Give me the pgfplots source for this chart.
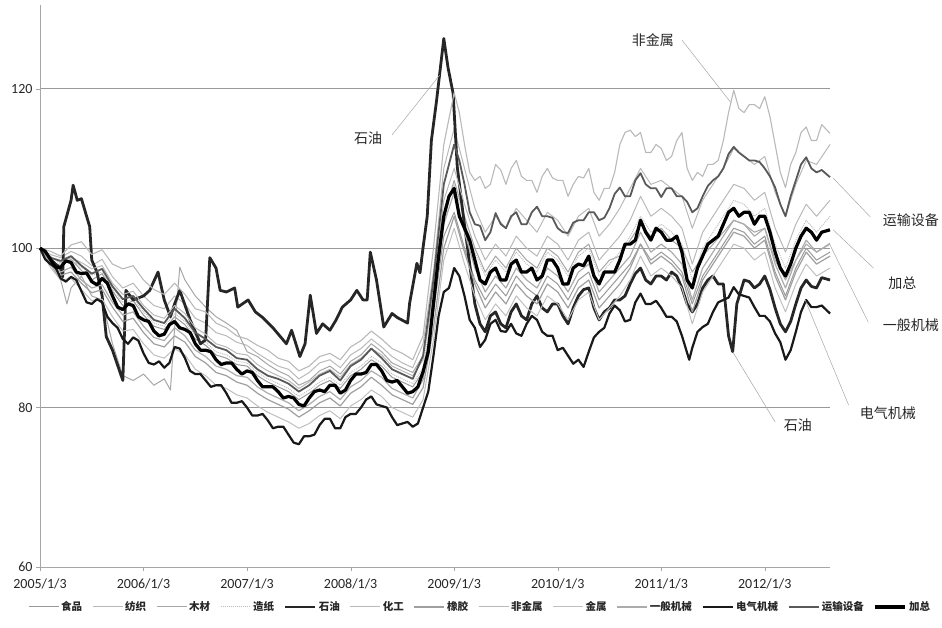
\documentclass[border=0pt]{standalone}
\usepackage{fontspec}
\setmainfont{Carlito}
\newfontfamily\cjk{Noto Sans CJK SC}
\usepackage{pgfplots}
\pgfplotsset{compat=1.18}
\begin{document}
\begin{tikzpicture}[x=1pt,y=1pt]
\path[use as bounding box] (0,0) rectangle (942,627);
\begin{axis}[
  at={(40pt,60pt)}, anchor=south west, scale only axis,
  width=790pt, height=562pt,
  xmin=0, xmax=7.63, ymin=60, ymax=130.5,
  axis x line*=bottom, axis y line*=left,
  axis line style={-, gray!70, line width=0.7pt},
  xtick={0,...,7},
  xticklabels={2005/1/3,2006/1/3,2007/1/3,2008/1/3,2009/1/3,2010/1/3,2011/1/3,2012/1/3},
  ytick={60,80,100,120},
  ymajorgrids, grid style={gray!80, line width=0.7pt},
  tick align=outside, major tick length=4pt, tick style={gray!70},
  ticklabel style={font=\fontsize{14}{14}\selectfont, text=black!85},
  xticklabel style={yshift=-4pt},
  /pgf/number format/assume math mode=true,
  clip=false,
  line join=round,
  legend columns=13,
  legend cell align=left,
  legend image code/.code={\draw[#1] (0pt,0pt) -- (30pt,0pt);},
  legend style={at={(0.557,-0.071)}, anchor=center, draw=none, fill=none,
    font=\cjk\bfseries\fontsize{10.5}{11}\selectfont, text=black!85,
    /tikz/every odd column/.append style={column sep=0pt},
    /tikz/every even column/.append style={column sep=8pt}},
]
% 食品
\addplot[gray!80, line width=1pt] coordinates {
(0,100) (0.1,98.4) (0.2,97.8) (0.3,98.6) (0.4,97.2) (0.5,96.0) (0.6,96.8) (0.7,94.6) (0.8,92.8) (0.9,93.4)
(1.0,91.6) (1.1,90.2) (1.2,89.8) (1.3,91.4) (1.4,90.4) (1.5,88.6) (1.6,87.8) (1.7,86.6) (1.8,86.2) (1.9,85.4)
(2.0,85.2) (2.1,84.0) (2.2,83.2) (2.3,82.6) (2.4,82.0) (2.5,81.0) (2.6,81.8) (2.7,82.8) (2.8,83.4) (2.9,82.4)
(3.0,84.0) (3.1,84.8) (3.2,86.0) (3.3,85.2) (3.4,83.8) (3.5,83.2) (3.6,82.6) (3.7,84.5) (3.8,92.0) (3.9,101.5)
(4.0,104.5) (4.1,100.0) (4.2,96.0) (4.3,93.5) (4.4,95.5) (4.5,94.0) (4.6,96.5) (4.7,95.0) (4.8,94.0) (4.9,96.5)
(5.0,95.5) (5.1,93.5) (5.2,96.0) (5.3,97.0) (5.4,93.5) (5.5,95.0) (5.6,96.5) (5.7,98.0) (5.8,100.5) (5.9,98.5)
(6.0,99.5) (6.1,98.5) (6.2,97.0) (6.3,93.0) (6.4,96.5) (6.5,98.5) (6.6,100.5) (6.7,102.5) (6.8,102.0) (6.9,100.5)
(7.0,101.5) (7.1,97.0) (7.2,94.0) (7.3,97.5) (7.4,100.0) (7.5,98.5) (7.63,99.5)};
\addlegendentry{食品}
% 纺织
\addplot[gray!55, line width=1pt] coordinates {
(0,100) (0.1,99.2) (0.2,98.8) (0.3,99.6) (0.4,99.0) (0.5,97.8) (0.6,98.6) (0.7,96.4) (0.8,95.0) (0.9,95.6)
(1.0,94.0) (1.1,92.8) (1.2,92.4) (1.3,94.0) (1.4,93.0) (1.5,91.2) (1.6,90.6) (1.7,89.4) (1.8,89.0) (1.9,88.2)
(2.0,87.8) (2.1,86.8) (2.2,86.0) (2.3,85.2) (2.4,84.8) (2.5,83.6) (2.6,84.4) (2.7,85.6) (2.8,86.0) (2.9,85.0)
(3.0,86.6) (3.1,87.4) (3.2,88.6) (3.3,87.6) (3.4,86.4) (3.5,85.6) (3.6,85.0) (3.7,88.0) (3.8,97.0) (3.9,110.0)
(4.0,115.0) (4.1,110.0) (4.2,105.0) (4.3,102.0) (4.4,104.0) (4.5,102.5) (4.6,105.0) (4.7,103.5) (4.8,102.0) (4.9,104.5)
(5.0,103.5) (5.1,101.5) (5.2,104.0) (5.3,105.0) (5.4,101.5) (5.5,103.0) (5.6,105.0) (5.7,107.5) (5.8,110.0) (5.9,108.0)
(6.0,108.5) (6.1,107.5) (6.2,106.5) (6.3,102.5) (6.4,106.0) (6.5,108.0) (6.6,110.0) (6.7,112.5) (6.8,111.5) (6.9,110.5)
(7.0,111.5) (7.1,107.0) (7.2,104.0) (7.3,108.0) (7.4,111.0) (7.5,110.5) (7.63,113.0)};
\addlegendentry{纺织}
% 木材
\addplot[gray!70, line width=1pt] coordinates {
(0,100) (0.1,98.0) (0.2,96.0) (0.26,93.0) (0.3,95.0) (0.4,96.5) (0.5,94.0) (0.6,93.5) (0.7,88.0) (0.8,84.0)
(0.9,83.4) (1.0,84.2) (1.1,82.8) (1.2,83.6) (1.26,82.2) (1.3,90.0) (1.35,97.6) (1.4,96.0) (1.5,94.0) (1.6,92.6)
(1.7,91.4) (1.8,90.6) (1.9,89.7) (2.0,87.0) (2.1,86.4) (2.2,85.4) (2.3,84.6) (2.4,84.0) (2.5,82.8) (2.6,83.4)
(2.7,84.6) (2.8,85.2) (2.9,84.2) (3.0,85.8) (3.1,86.6) (3.2,88.0) (3.3,87.0) (3.4,85.6) (3.5,85.0) (3.6,84.4)
(3.7,86.5) (3.8,94.0) (3.9,104.0) (4.0,108.5) (4.1,104.0) (4.2,100.0) (4.3,97.0) (4.4,99.0) (4.5,97.5) (4.6,100.0)
(4.7,98.5) (4.8,97.5) (4.9,100.0) (5.0,99.0) (5.1,97.0) (5.2,99.5) (5.3,100.5) (5.4,97.0) (5.5,98.5) (5.6,99.0)
(5.7,101.0) (5.8,103.0) (5.9,101.5) (6.0,102.5) (6.1,101.0) (6.2,100.0) (6.3,97.0) (6.4,99.0) (6.5,100.5) (6.6,102.0)
(6.7,103.5) (6.8,103.0) (6.9,102.0) (7.0,102.5) (7.1,98.5) (7.2,96.0) (7.3,98.5) (7.4,100.5) (7.5,99.5) (7.63,100.5)};
\addlegendentry{木材}
% 造纸
\addplot[gray!50, line width=1pt, densely dotted] coordinates {
(0,100) (0.1,99.0) (0.2,98.0) (0.3,98.6) (0.4,97.6) (0.5,96.6) (0.6,97.0) (0.7,94.8) (0.8,93.2) (0.9,93.6)
(1.0,92.0) (1.1,90.6) (1.2,90.2) (1.3,91.8) (1.4,90.8) (1.5,89.0) (1.6,88.2) (1.7,87.0) (1.8,86.6) (1.9,85.8)
(2.0,85.6) (2.1,84.4) (2.2,83.6) (2.3,83.0) (2.4,82.4) (2.5,81.4) (2.6,82.2) (2.7,83.2) (2.8,83.8) (2.9,82.8)
(3.0,84.4) (3.1,85.2) (3.2,86.4) (3.3,85.6) (3.4,84.2) (3.5,83.6) (3.6,83.0) (3.7,85.0) (3.8,93.5) (3.9,104.5)
(4.0,108.0) (4.1,103.5) (4.2,99.5) (4.3,96.5) (4.4,98.5) (4.5,97.0) (4.6,99.5) (4.7,98.0) (4.8,97.0) (4.9,99.5)
(5.0,98.5) (5.1,96.5) (5.2,99.0) (5.3,100.0) (5.4,96.5) (5.5,98.0) (5.6,99.5) (5.7,101.5) (5.8,104.0) (5.9,102.0)
(6.0,103.0) (6.1,102.0) (6.2,100.5) (6.3,96.0) (6.4,100.0) (6.5,102.0) (6.6,104.0) (6.7,106.0) (6.8,105.5) (6.9,104.0)
(7.0,105.0) (7.1,100.5) (7.2,97.5) (7.3,101.0) (7.4,103.5) (7.5,102.0) (7.63,104.0)};
\addlegendentry{造纸}
% 石油
\addplot[black!85, line width=2.8pt] coordinates {
(0,100) (0.1,98.6) (0.2,97.4) (0.22,96.4) (0.23,102.7) (0.3,106.0) (0.32,107.9) (0.36,106.0) (0.4,106.2) (0.45,104.0)
(0.48,102.7) (0.5,98.5) (0.55,97.0) (0.6,94.0) (0.64,88.9) (0.7,87.2) (0.8,83.4) (0.83,94.7) (0.9,93.5) (1.0,94.0)
(1.06,94.7) (1.14,97.0) (1.2,93.5) (1.26,91.4) (1.3,93.0) (1.35,94.7) (1.45,91.0) (1.55,88.0) (1.6,88.5) (1.64,98.8)
(1.7,97.5) (1.74,94.7) (1.8,94.5) (1.88,95.0) (1.91,92.6) (2.01,93.5) (2.08,92.0) (2.15,91.3) (2.25,90.0) (2.38,88.0)
(2.43,89.7) (2.51,86.4) (2.56,88.0) (2.61,94.1) (2.67,89.3) (2.73,90.5) (2.8,89.7) (2.86,91.0) (2.92,92.6) (3.0,93.5)
(3.06,94.7) (3.12,93.5) (3.16,93.5) (3.19,99.5) (3.25,96.0) (3.32,90.1) (3.4,91.8) (3.45,91.3) (3.55,90.6) (3.57,93.1)
(3.64,98.1) (3.67,96.9) (3.7,100.1) (3.74,104.0) (3.78,113.5) (3.83,118.5) (3.9,126.3) (3.94,122.7) (3.99,119.4) (4.03,110.2)
(4.09,103.9) (4.15,98.0) (4.2,93.0) (4.25,90.5) (4.3,89.5) (4.35,91.5) (4.4,92.0) (4.45,90.5) (4.5,90.0) (4.55,92.0)
(4.6,93.0) (4.65,91.5) (4.7,91.0) (4.75,93.0) (4.8,94.0) (4.85,92.5) (4.9,92.0) (4.95,93.0) (5.0,93.0) (5.05,91.5)
(5.1,90.5) (5.15,92.5) (5.2,94.0) (5.25,94.8) (5.3,95.0) (5.35,92.5) (5.4,91.0) (5.45,92.0) (5.5,92.5) (5.55,93.5)
(5.6,93.5) (5.65,94.0) (5.7,95.5) (5.75,96.8) (5.8,97.5) (5.85,96.0) (5.9,95.5) (5.95,96.5) (6.0,96.5) (6.05,96.0)
(6.1,97.0) (6.15,96.5) (6.2,95.0) (6.25,93.0) (6.3,92.0) (6.35,93.0) (6.4,95.0) (6.45,96.0) (6.5,96.5) (6.55,95.5)
(6.6,95.5) (6.65,89.0) (6.69,87.0) (6.73,93.0) (6.8,96.0) (6.85,95.8) (6.9,95.0) (6.95,95.5) (7.0,96.5) (7.05,94.8)
(7.1,92.5) (7.15,90.5) (7.2,89.5) (7.25,90.8) (7.3,93.0) (7.35,95.0) (7.4,96.0) (7.45,95.2) (7.5,95.0) (7.55,96.3) (7.63,96.0)};
\addlegendentry{石油}
% 化工
\addplot[gray!55, line width=1pt] coordinates {
(0,100) (0.1,98.9) (0.2,98.2) (0.3,98.8) (0.4,98.2) (0.5,97.4) (0.6,97.8) (0.7,95.6) (0.8,94.2) (0.9,94.6)
(1.0,92.8) (1.1,91.6) (1.2,91.2) (1.3,92.8) (1.4,91.8) (1.5,90.0) (1.6,89.2) (1.7,88.0) (1.8,87.6) (1.9,86.8)
(2.0,86.6) (2.1,85.4) (2.2,84.6) (2.3,84.0) (2.4,83.4) (2.5,82.4) (2.6,83.2) (2.7,84.2) (2.8,84.8) (2.9,83.8)
(3.0,85.4) (3.1,86.2) (3.2,87.4) (3.3,86.6) (3.4,85.2) (3.5,84.6) (3.6,84.0) (3.7,86.0) (3.8,95.0) (3.9,106.0)
(4.0,110.0) (4.1,105.5) (4.2,101.5) (4.3,98.5) (4.4,100.5) (4.5,99.0) (4.6,101.5) (4.7,100.0) (4.8,99.0) (4.9,101.5)
(5.0,100.5) (5.1,98.5) (5.2,101.0) (5.3,102.0) (5.4,98.5) (5.5,100.0) (5.6,101.5) (5.7,103.5) (5.8,106.5) (5.9,104.0)
(6.0,105.0) (6.1,104.0) (6.2,102.5) (6.3,98.0) (6.4,102.0) (6.5,104.0) (6.6,106.0) (6.7,108.0) (6.8,107.5) (6.9,106.0)
(7.0,107.0) (7.1,102.5) (7.2,99.5) (7.3,103.0) (7.4,105.5) (7.5,104.0) (7.63,106.0)};
\addlegendentry{化工}
% 橡胶
\addplot[gray!75, line width=1.2pt] coordinates {
(0,100) (0.1,98.0) (0.2,96.6) (0.3,97.0) (0.4,95.6) (0.5,94.4) (0.6,94.8) (0.7,92.6) (0.8,90.8) (0.9,91.2)
(1.0,89.4) (1.1,88.0) (1.2,87.6) (1.3,89.0) (1.4,88.2) (1.5,86.4) (1.6,85.6) (1.7,84.4) (1.8,84.0) (1.9,83.2)
(2.0,82.8) (2.1,81.8) (2.2,81.0) (2.3,80.4) (2.4,79.8) (2.5,78.8) (2.6,79.6) (2.7,80.6) (2.8,81.2) (2.9,80.2)
(3.0,81.8) (3.1,82.6) (3.2,83.8) (3.3,82.8) (3.4,81.6) (3.5,81.0) (3.6,80.4) (3.7,82.5) (3.8,90.0) (3.9,100.0)
(4.0,104.0) (4.1,99.5) (4.2,95.5) (4.3,92.5) (4.4,94.5) (4.5,93.0) (4.6,95.5) (4.7,94.0) (4.8,93.0) (4.9,95.5)
(5.0,94.5) (5.1,92.5) (5.2,95.0) (5.3,96.0) (5.4,92.5) (5.5,94.0) (5.6,95.5) (5.7,97.5) (5.8,100.5) (5.9,98.0)
(6.0,99.0) (6.1,98.0) (6.2,96.5) (6.3,92.0) (6.4,96.0) (6.5,98.0) (6.6,100.0) (6.7,102.0) (6.8,101.5) (6.9,100.0)
(7.0,101.0) (7.1,96.5) (7.2,93.5) (7.3,97.0) (7.4,99.5) (7.5,98.0) (7.63,99.0)};
\addlegendentry{橡胶}
% 非金属
\addplot[gray!55, line width=1.1pt] coordinates {
(0,100) (0.1,99.6) (0.2,99.0) (0.3,100.4) (0.4,100.8) (0.5,99.2) (0.6,99.8) (0.7,98.0) (0.8,97.4) (0.9,97.8)
(1.0,96.0) (1.1,94.8) (1.2,94.2) (1.3,95.6) (1.4,94.2) (1.5,92.4) (1.6,92.0) (1.7,90.6) (1.8,90.0) (1.9,89.0)
(2.0,88.6) (2.1,87.8) (2.2,87.2) (2.3,86.2) (2.4,85.8) (2.5,84.6) (2.6,85.2) (2.7,86.4) (2.8,86.8) (2.9,86.0)
(3.0,87.6) (3.1,88.4) (3.2,89.6) (3.3,88.6) (3.4,87.4) (3.5,86.8) (3.6,86.0) (3.7,89.0) (3.8,100.0) (3.9,113.0)
(4.0,119.5) (4.05,117.0) (4.1,113.0) (4.15,109.5) (4.2,108.5) (4.25,109.0) (4.3,107.5) (4.35,108.0) (4.4,110.5) (4.45,109.8)
(4.5,108.0) (4.55,110.0) (4.6,111.0) (4.65,109.0) (4.7,108.5) (4.75,108.5) (4.8,107.0) (4.85,109.0) (4.9,110.0) (4.95,108.8)
(5.0,108.5) (5.05,108.5) (5.1,106.5) (5.15,108.0) (5.2,109.0) (5.25,108.8) (5.3,110.0) (5.35,107.0) (5.4,106.0) (5.45,107.5)
(5.5,107.5) (5.55,109.5) (5.6,113.0) (5.65,114.5) (5.7,114.8) (5.75,114.0) (5.8,114.5) (5.85,112.0) (5.9,112.0) (5.95,113.0)
(6.0,112.5) (6.05,111.0) (6.1,111.5) (6.15,113.5) (6.2,114.5) (6.25,110.0) (6.3,108.5) (6.35,109.5) (6.4,109.0) (6.45,110.5)
(6.5,110.5) (6.55,111.0) (6.6,113.5) (6.65,117.0) (6.7,119.8) (6.75,117.5) (6.8,117.0) (6.85,118.0) (6.9,118.0) (6.95,117.5)
(7.0,119.0) (7.05,116.5) (7.1,113.0) (7.15,109.5) (7.2,107.6) (7.25,110.5) (7.3,112.0) (7.35,114.5) (7.4,115.2) (7.45,113.5)
(7.5,113.5) (7.55,115.5) (7.63,114.4)};
\addlegendentry{非金属}
% 金属
\addplot[gray!50, line width=1pt] coordinates {
(0,100) (0.1,97.6) (0.2,96.0) (0.3,96.2) (0.4,94.8) (0.5,93.4) (0.6,93.6) (0.7,91.4) (0.8,89.6) (0.9,89.8)
(1.0,88.0) (1.1,86.6) (1.2,86.2) (1.3,87.4) (1.4,86.6) (1.5,84.8) (1.6,84.0) (1.7,82.8) (1.8,82.4) (1.9,81.6)
(2.0,81.2) (2.1,80.2) (2.2,79.4) (2.3,78.8) (2.4,78.2) (2.5,77.4) (2.6,78.0) (2.7,79.0) (2.8,79.6) (2.9,78.6)
(3.0,80.2) (3.1,81.0) (3.2,82.2) (3.3,81.4) (3.4,80.0) (3.5,79.4) (3.6,78.8) (3.7,81.0) (3.8,88.5) (3.9,98.5)
(4.0,102.5) (4.1,98.0) (4.2,94.0) (4.3,91.0) (4.4,93.0) (4.5,91.5) (4.6,94.0) (4.7,92.5) (4.8,91.5) (4.9,94.0)
(5.0,93.0) (5.1,91.0) (5.2,93.5) (5.3,94.5) (5.4,91.0) (5.5,92.5) (5.6,94.0) (5.7,96.0) (5.8,99.0) (5.9,96.5)
(6.0,97.5) (6.1,96.5) (6.2,95.0) (6.3,90.5) (6.4,94.5) (6.5,96.5) (6.6,98.5) (6.7,100.5) (6.8,100.0) (6.9,98.5)
(7.0,99.5) (7.1,95.0) (7.2,92.0) (7.3,95.5) (7.4,98.0) (7.5,96.5) (7.63,97.5)};
\addlegendentry{金属}
% 一般机械
\addplot[gray!65, line width=1.2pt] coordinates {
(0,100) (0.1,98.2) (0.2,97.0) (0.3,97.6) (0.4,96.0) (0.5,95.0) (0.6,95.4) (0.7,93.2) (0.8,91.6) (0.9,92.0)
(1.0,90.2) (1.1,88.8) (1.2,88.4) (1.3,90.0) (1.4,89.0) (1.5,87.2) (1.6,86.4) (1.7,85.2) (1.8,84.8) (1.9,84.0)
(2.0,83.8) (2.1,82.6) (2.2,81.8) (2.3,81.2) (2.4,80.6) (2.5,79.6) (2.6,80.4) (2.7,81.4) (2.8,82.0) (2.9,81.0)
(3.0,82.6) (3.1,83.4) (3.2,84.6) (3.3,83.8) (3.4,82.4) (3.5,81.8) (3.6,81.2) (3.7,83.5) (3.8,92.0) (3.9,103.0)
(4.0,107.0) (4.1,102.0) (4.2,97.5) (4.3,94.5) (4.4,96.5) (4.5,95.0) (4.6,97.5) (4.7,96.0) (4.8,95.0) (4.9,97.5)
(5.0,96.5) (5.1,94.5) (5.2,97.0) (5.3,98.0) (5.4,94.5) (5.5,96.0) (5.6,97.5) (5.7,99.0) (5.8,102.0) (5.9,99.5)
(6.0,100.5) (6.1,99.5) (6.2,98.0) (6.3,93.5) (6.4,97.5) (6.5,99.5) (6.6,101.5) (6.7,103.5) (6.8,103.0) (6.9,101.5)
(7.0,102.5) (7.1,98.0) (7.2,95.0) (7.3,98.5) (7.4,101.0) (7.5,99.5) (7.63,100.6)};
\addlegendentry{一般机械}
% 电气机械
\addplot[black!90, line width=2.2pt] coordinates {
(0,100) (0.05,98.6) (0.1,98.0) (0.15,97.6) (0.2,96.2) (0.25,95.8) (0.3,96.4) (0.35,96.0) (0.4,94.6) (0.45,93.2)
(0.5,93.0) (0.55,93.6) (0.6,93.2) (0.65,91.4) (0.7,90.6) (0.75,90.0) (0.8,88.6) (0.85,88.0) (0.9,88.8) (0.95,88.4)
(1.0,86.8) (1.05,85.6) (1.1,85.4) (1.15,85.8) (1.2,85.0) (1.25,85.6) (1.3,87.6) (1.35,87.4) (1.4,86.2) (1.45,84.6)
(1.5,84.2) (1.55,84.2) (1.6,83.4) (1.65,82.6) (1.7,82.8) (1.75,82.8) (1.8,81.8) (1.85,80.6) (1.9,80.6) (1.95,80.8)
(2.0,80.0) (2.05,79.0) (2.1,79.0) (2.15,79.2) (2.2,78.4) (2.25,77.4) (2.3,77.6) (2.35,77.6) (2.4,76.6) (2.45,75.6)
(2.5,75.4) (2.55,76.4) (2.6,76.4) (2.65,76.6) (2.7,77.8) (2.75,78.6) (2.8,78.6) (2.85,77.4) (2.9,77.4) (2.95,78.8)
(3.0,79.2) (3.05,79.2) (3.1,80.0) (3.15,81.0) (3.2,81.4) (3.25,80.4) (3.3,80.2) (3.35,80.0) (3.4,78.8) (3.45,77.8)
(3.5,78.0) (3.55,78.2) (3.6,77.6) (3.65,78.0) (3.7,80.0) (3.75,82.0) (3.8,86.5) (3.85,91.5) (3.9,94.5) (3.95,95.0)
(4.0,97.5) (4.05,96.5) (4.1,94.0) (4.15,91.0) (4.2,90.0) (4.25,87.6) (4.3,88.5) (4.35,90.5) (4.4,91.0) (4.45,89.6)
(4.5,89.5) (4.55,90.5) (4.6,89.3) (4.65,89.0) (4.7,90.5) (4.75,91.5) (4.8,91.0) (4.85,89.5) (4.9,89.0) (4.95,89.0)
(5.0,87.2) (5.05,87.5) (5.1,86.5) (5.15,85.5) (5.2,86.0) (5.25,85.1) (5.3,87.0) (5.35,88.8) (5.4,89.5) (5.45,90.0)
(5.5,91.8) (5.55,92.8) (5.6,92.2) (5.65,90.8) (5.7,91.0) (5.75,93.2) (5.8,94.3) (5.85,93.0) (5.9,93.0) (5.95,93.4)
(6.0,92.5) (6.05,91.4) (6.1,91.4) (6.15,90.8) (6.2,89.0) (6.27,86.0) (6.3,87.5) (6.35,89.5) (6.4,90.1) (6.45,90.5)
(6.5,92.0) (6.55,93.2) (6.6,93.5) (6.65,93.8) (6.7,95.1) (6.75,94.2) (6.8,94.0) (6.85,93.8) (6.9,92.6) (6.95,91.5)
(7.0,91.5) (7.05,90.8) (7.1,89.3) (7.15,88.2) (7.2,86.0) (7.25,87.2) (7.3,89.5) (7.35,92.0) (7.4,93.5) (7.45,92.6)
(7.5,92.6) (7.55,92.8) (7.63,91.8)};
\addlegendentry{电气机械}
% 运输设备
\addplot[black!65, line width=1.8pt] coordinates {
(0,100) (0.1,98.8) (0.2,98.4) (0.3,99.0) (0.4,97.8) (0.5,96.8) (0.6,97.4) (0.7,95.2) (0.8,93.6) (0.9,94.0)
(1.0,92.4) (1.1,91.0) (1.2,90.6) (1.3,92.4) (1.4,91.2) (1.5,89.4) (1.6,88.6) (1.7,87.6) (1.8,87.2) (1.9,86.2)
(2.0,86.0) (2.1,84.8) (2.2,84.0) (2.3,83.6) (2.4,83.0) (2.5,82.0) (2.6,82.8) (2.7,84.0) (2.8,84.6) (2.9,83.4)
(3.0,85.2) (3.1,86.0) (3.2,87.4) (3.3,86.2) (3.4,84.8) (3.5,84.2) (3.6,83.6) (3.7,86.5) (3.8,96.0) (3.9,108.0)
(4.0,113.0) (4.05,111.0) (4.1,108.0) (4.15,104.5) (4.2,103.0) (4.25,102.8) (4.3,101.0) (4.35,102.0) (4.4,104.4) (4.45,103.0)
(4.5,102.5) (4.55,104.0) (4.6,104.5) (4.65,103.0) (4.7,103.0) (4.75,104.5) (4.8,105.2) (4.85,104.0) (4.9,104.0) (4.95,103.8)
(5.0,102.5) (5.05,102.0) (5.1,101.9) (5.15,103.2) (5.2,103.5) (5.25,103.5) (5.3,104.5) (5.35,104.5) (5.4,103.5) (5.45,103.8)
(5.5,105.0) (5.55,106.8) (5.6,107.6) (5.65,106.5) (5.7,106.5) (5.75,108.5) (5.8,109.4) (5.85,108.0) (5.9,107.5) (5.95,107.5)
(6.0,106.4) (6.05,107.5) (6.1,107.5) (6.15,106.5) (6.2,106.5) (6.25,105.8) (6.3,104.5) (6.35,105.0) (6.4,106.5) (6.45,107.8)
(6.5,108.5) (6.55,109.0) (6.6,110.0) (6.65,111.8) (6.7,112.7) (6.75,112.0) (6.8,111.5) (6.85,111.0) (6.9,111.0) (6.95,110.8)
(7.0,110.0) (7.05,109.0) (7.1,107.6) (7.15,105.5) (7.2,104.0) (7.25,106.5) (7.3,108.5) (7.35,110.5) (7.4,111.4) (7.45,110.0)
(7.5,109.5) (7.55,109.8) (7.63,108.9)};
\addlegendentry{运输设备}
% 加总
\addplot[black, line width=3.2pt] coordinates {
(0,100) (0.05,99.6) (0.1,98.6) (0.15,97.6) (0.2,97.6) (0.25,98.4) (0.3,98.2) (0.35,97.0) (0.4,96.8) (0.45,96.9)
(0.5,95.8) (0.55,95.4) (0.6,96.2) (0.65,95.6) (0.7,94.0) (0.75,92.6) (0.8,92.3) (0.85,93.0) (0.9,92.8) (0.95,91.4)
(1.0,91.0) (1.05,90.8) (1.1,89.6) (1.15,89.0) (1.2,89.2) (1.25,90.4) (1.3,90.8) (1.35,90.0) (1.4,89.8) (1.45,89.4)
(1.5,88.0) (1.55,87.2) (1.6,87.2) (1.65,87.0) (1.7,86.0) (1.75,85.4) (1.8,85.6) (1.85,85.6) (1.9,84.8) (1.95,84.2)
(2.0,84.6) (2.05,84.4) (2.1,83.4) (2.15,82.6) (2.2,82.6) (2.25,82.6) (2.3,82.0) (2.35,81.2) (2.4,81.4) (2.45,81.2)
(2.5,80.4) (2.55,80.2) (2.6,81.2) (2.65,82.0) (2.7,82.2) (2.75,82.0) (2.8,82.8) (2.85,82.8) (2.9,81.8) (2.95,82.2)
(3.0,83.4) (3.05,84.2) (3.1,84.2) (3.15,84.4) (3.2,85.4) (3.25,85.4) (3.3,84.6) (3.35,83.4) (3.4,83.2) (3.45,83.4)
(3.5,82.6) (3.55,81.8) (3.6,82.0) (3.65,82.6) (3.7,84.5) (3.75,87.0) (3.8,93.0) (3.85,99.0) (3.9,104.0) (3.95,106.5)
(4.0,107.5) (4.05,104.0) (4.1,102.5) (4.15,101.0) (4.2,98.5) (4.25,96.0) (4.3,95.5) (4.35,97.0) (4.4,97.5) (4.45,96.0)
(4.5,96.0) (4.55,98.0) (4.6,98.5) (4.65,97.0) (4.7,97.0) (4.75,97.5) (4.8,96.0) (4.85,96.5) (4.9,98.5) (4.95,98.5)
(5.0,97.5) (5.05,95.5) (5.1,95.5) (5.15,97.5) (5.2,98.0) (5.25,97.8) (5.3,99.0) (5.35,96.5) (5.4,95.5) (5.45,97.0)
(5.5,97.0) (5.55,97.0) (5.6,98.5) (5.65,100.5) (5.7,100.5) (5.75,101.0) (5.8,103.5) (5.85,102.0) (5.9,101.0) (5.95,102.5)
(6.0,102.0) (6.05,101.0) (6.1,101.0) (6.15,101.5) (6.2,99.5) (6.25,96.0) (6.3,95.0) (6.35,97.5) (6.4,99.0) (6.45,100.5)
(6.5,101.0) (6.55,101.5) (6.6,103.0) (6.65,104.5) (6.7,105.0) (6.75,104.0) (6.8,104.5) (6.85,104.5) (6.9,103.0) (6.95,104.0)
(7.0,104.0) (7.05,102.0) (7.1,99.5) (7.15,97.5) (7.2,96.5) (7.25,98.0) (7.3,100.0) (7.35,101.5) (7.4,102.5) (7.45,102.0)
(7.5,101.0) (7.55,102.0) (7.63,102.3)};
\addlegendentry{加总}
% annotations
\begin{scope}[font=\cjk\fontsize{14}{14}\selectfont, text=black!85]
\draw[gray!70, line width=0.5pt] (axis cs:3.40,114.2) -- (axis cs:3.86,121.7);
\node at (axis cs:3.17,113.8) {石油};
\draw[gray!70, line width=0.5pt] (axis cs:6.20,126.1) -- (axis cs:6.67,118.3);
\node at (axis cs:5.92,126.1) {非金属};
\draw[gray!70, line width=0.5pt] (axis cs:7.66,108.8) -- (axis cs:8.02,103.9);
\node at (axis cs:8.41,103.5) {运输设备};
\draw[gray!70, line width=0.5pt] (axis cs:7.66,102.3) -- (axis cs:8.05,97.5);
\node at (axis cs:8.33,95.6) {加总};
\draw[gray!70, line width=0.5pt] (axis cs:7.63,100.4) -- (axis cs:8.00,90.7);
\node at (axis cs:8.41,90.3) {一般机械};
\draw[gray!70, line width=0.5pt] (axis cs:7.39,93.5) -- (axis cs:7.81,80.3);
\node at (axis cs:8.19,79.3) {电气机械};
\draw[gray!70, line width=0.5pt] (axis cs:6.69,87.0) -- (axis cs:7.10,78.2);
\node at (axis cs:7.32,77.8) {石油};
\end{scope}
\end{axis}
\end{tikzpicture}
\end{document}
